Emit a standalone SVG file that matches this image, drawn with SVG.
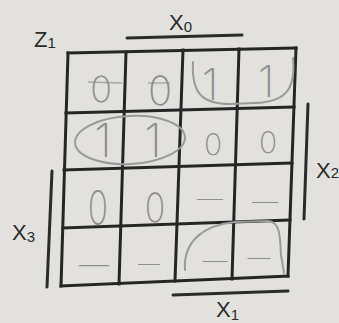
<svg xmlns="http://www.w3.org/2000/svg" width="339" height="323" viewBox="0 0 339 323">
<style>
.lbl{font-family:"Liberation Sans","Arial",sans-serif;fill:#2b2b2b;font-size:22px}
.sub{font-size:15px}
.bar{stroke:#2b2b2b;stroke-width:3;stroke-linecap:round;fill:none}
.grid{stroke:#252525;stroke-width:3;fill:none;stroke-linecap:square}
.m{font-family:"Inter","Liberation Sans",sans-serif;font-weight:200;fill:#8e8e8e;text-anchor:middle}
.loop{stroke:#9a9a9a;stroke-width:2;fill:none;stroke-linecap:round}
.faint{stroke:#a8a8a8;stroke-width:1.5;fill:none}
</style>
<rect width="339" height="323" fill="#e3e1de"/>

<g id="labels">
  <text class="lbl" x="34" y="47">Z<tspan class="sub" dy="1">1</tspan></text>
  <text class="lbl" x="169" y="30">X<tspan class="sub" dy="2">0</tspan></text>
  <text class="lbl" x="316" y="178">X<tspan class="sub" dy="0">2</tspan></text>
  <text class="lbl" x="12" y="240">X<tspan class="sub" dy="2">3</tspan></text>
  <text class="lbl" x="216" y="317">X<tspan class="sub" dy="3">1</tspan></text>
</g>

<g id="bars">
  <path class="bar" d="M127,38 L242,35"/>
  <path class="bar" d="M308,104 L304,219"/>
  <path class="bar" d="M52,171 L47,287"/>
  <path class="bar" d="M173,295 L288,291"/>
</g>

<g id="grid">
  <path class="grid" d="M68,53 L296,48 M66,113 L294,107 M64,170 L292,163 M63,228 L290,220 M61,286 L288,276"/>
  <path class="grid" d="M68,53 L61,286 M126,52 L119,284 M183,50 L175,281 M239,49 L232,279 M296,48 L288,276"/>
</g>

<g id="cells">
  <g id="r1c1"><path class="faint" d="M88,82 L122,83"/><text class="m" x="101" y="102" font-size="36">0</text></g>
  <g id="r1c2"><path class="faint" d="M148,83 L170,83"/><text class="m" x="160" y="105" font-size="40">0</text></g>
  <g id="r1c3"><text class="m" x="210" y="100" font-size="44">1</text></g>
  <g id="r1c4"><text class="m" x="266" y="97" font-size="44">1</text></g>
  <g id="r2c1"><text class="m" x="103" y="157" font-size="46">1</text></g>
  <g id="r2c2"><text class="m" x="153" y="157" font-size="46">1</text></g>
  <g id="r2c3"><text class="m" x="213" y="155" font-size="30">0</text></g>
  <g id="r2c4"><text class="m" x="268" y="153" font-size="30">0</text></g>
  <g id="r3c1"><text class="m" transform="translate(98,225) scale(0.7,1)" x="0" y="0" font-size="48">0</text></g>
  <g id="r3c2"><text class="m" transform="translate(155,222) scale(0.85,1)" x="0" y="0" font-size="40">0</text></g>
  <g id="r3c3"><text class="m" x="210" y="208" font-size="26">—</text></g>
  <g id="r3c4"><text class="m" x="265" y="211" font-size="26">—</text></g>
  <g id="r4c1"><text class="m" x="94" y="275" font-size="30">—</text></g>
  <g id="r4c2"><text class="m" x="149" y="271" font-size="22">—</text></g>
  <g id="r4c3"><text class="m" x="215" y="269" font-size="25">—</text></g>
  <g id="r4c4"><text class="m" x="259" y="266" font-size="23">—</text></g>
</g>

<g id="loops">
  <path class="loop" d="M193,62 C191,96 205,104 230,104 L255,103 C285,102 296,90 293,58"/>
  <ellipse class="loop" cx="130" cy="140" rx="55" ry="24" transform="rotate(-3 130 140)"/>
  <path class="loop" d="M185,270 C183,240 205,225 235,222 L268,221 C280,222 280,235 281,255 L284,273"/>
</g>
</svg>
